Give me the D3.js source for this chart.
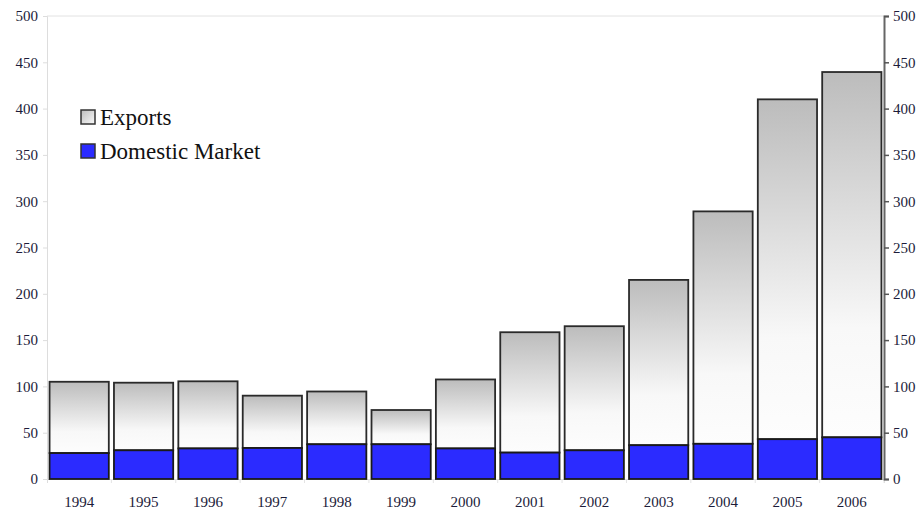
<!DOCTYPE html>
<html>
<head>
<meta charset="utf-8">
<script src="https://cdn.jsdelivr.net/npm/d3@7"></script>
<style>
  body { margin: 0; background: #fff; }
  text { font-family: "Liberation Serif", "Times New Roman", serif; }
</style>
</head>
<body>
<div class="chart"></div>
<script>
// Domestic market vs exports, 1994-2006
const years = ['1994', '1995', '1996', '1997', '1998', '1999', '2000',
               '2001', '2002', '2003', '2004', '2005', '2006'];
const domestic = [28, 31, 33, 33.5, 37.5, 37.5, 33, 28.5, 31, 36.5, 38, 43, 45];
const exports = [77, 73, 72.5, 56.5, 57, 37, 74.5, 130, 134, 178.5, 251, 367, 394.5];
const yTicks = [0, 50, 100, 150, 200, 250, 300, 350, 400, 450, 500];
const seriesNames = ['Exports', 'Domestic Market'];

const WIDTH = 921;
const HEIGHT = 512;
const MARGIN = { TOP: 16, BOTTOM: 33, LEFT: 47, RIGHT: 37 };
const FONT = '"Liberation Serif", "Times New Roman", serif';

const width = WIDTH - MARGIN.LEFT - MARGIN.RIGHT;
const height = HEIGHT - MARGIN.TOP - MARGIN.BOTTOM;

const svg = d3.select('.chart')
  .append('svg')
    .attr('width', WIDTH)
    .attr('height', HEIGHT);

const defs = svg.append('defs');
const grad = defs.append('linearGradient')
  .attr('id', 'exportGrad')
  .attr('x1', 0).attr('y1', 0).attr('x2', 0).attr('y2', 1);
grad.append('stop').attr('offset', '0%').attr('stop-color', '#bcbcbc');
grad.append('stop').attr('offset', '70%').attr('stop-color', '#f8f8f8');
grad.append('stop').attr('offset', '100%').attr('stop-color', '#fdfdfd');

const legGrad = defs.append('linearGradient')
  .attr('id', 'legendGrad')
  .attr('x1', 0).attr('y1', 0).attr('x2', 1).attr('y2', 1);
legGrad.append('stop').attr('offset', '0%').attr('stop-color', '#bdbdbd');
legGrad.append('stop').attr('offset', '100%').attr('stop-color', '#fafafa');

const g = svg.append('g')
  .attr('transform', `translate(${MARGIN.LEFT}, ${MARGIN.TOP})`);

const xscale = d3.scaleBand().domain(years).range([0, width]).paddingInner(0.08).paddingOuter(0.04);
const yscale = d3.scaleLinear().domain([0, 500]).range([height, 0]);

// top gridline
g.append('line')
  .attr('x1', 0).attr('x2', width)
  .attr('y1', yscale(500)).attr('y2', yscale(500))
  .attr('stroke', '#e2e2e2');

// left axis (light)
const leftAxis = g.append('g')
  .call(d3.axisLeft(yscale).tickValues(yTicks).tickSize(4).tickPadding(5));
leftAxis.select('.domain').attr('stroke', '#dddddd');
leftAxis.selectAll('.tick line').attr('stroke', '#dddddd');
leftAxis.selectAll('text')
  .style('font-family', FONT).style('font-size', '15px').attr('fill', '#1c1c3a');

// bottom axis (light)
const bottomAxis = g.append('g')
  .attr('transform', `translate(0, ${height})`)
  .call(d3.axisBottom(xscale).tickSize(4).tickPadding(13));
bottomAxis.select('.domain').attr('stroke', '#dddddd');
bottomAxis.selectAll('.tick line').attr('stroke', '#e4e4e4')
  .attr('transform', `translate(${xscale.step() / 2}, 0)`);
bottomAxis.selectAll('text')
  .style('font-family', FONT).style('font-size', '15px').attr('fill', '#1c1c3a');

// stacked bars
const rows = years.map((y, i) => ({ year: y, dom: domestic[i], exp: exports[i] }));

g.selectAll('.exp')
  .data(rows)
  .enter().append('rect')
    .attr('class', 'exp')
    .attr('x', d => xscale(d.year))
    .attr('y', d => yscale(d.dom + d.exp))
    .attr('width', xscale.bandwidth())
    .attr('height', d => yscale(d.dom) - yscale(d.dom + d.exp))
    .attr('fill', 'url(#exportGrad)')
    .attr('stroke', '#2a2a2a')
    .attr('stroke-width', 1.8);

g.selectAll('.dom')
  .data(rows)
  .enter().append('rect')
    .attr('class', 'dom')
    .attr('x', d => xscale(d.year))
    .attr('y', d => yscale(d.dom))
    .attr('width', xscale.bandwidth())
    .attr('height', d => yscale(0) - yscale(d.dom))
    .attr('fill', '#2b2bff')
    .attr('stroke', '#1a1a1a')
    .attr('stroke-width', 1.8);

// right axis (dark)
const rightAxis = g.append('g')
  .attr('transform', `translate(${width}, 0)`)
  .call(d3.axisRight(yscale).tickValues(yTicks).tickSize(5).tickPadding(4));
rightAxis.select('.domain').attr('stroke', '#666').attr('stroke-width', 2);
rightAxis.selectAll('.tick line').attr('stroke', '#555').attr('stroke-width', 1.5);
rightAxis.selectAll('text')
  .style('font-family', FONT).style('font-size', '15px').attr('fill', '#1c1c3a');

// legend
const legend = svg.selectAll('.legend')
  .data(seriesNames)
  .enter().append('g')
    .attr('class', 'legend')
    .attr('transform', (d, i) => `translate(81, ${110 + i * 34})`);

legend.append('rect')
  .attr('width', 14)
  .attr('height', 14)
  .attr('fill', (d, i) => i === 0 ? 'url(#legendGrad)' : '#2b2bff')
  .attr('stroke', '#333')
  .attr('stroke-width', 1.5);

legend.append('text')
  .attr('x', 19)
  .attr('y', 15)
  .style('font-family', FONT)
  .style('font-size', '23px')
  .attr('fill', '#111')
  .text(d => d);
</script>
</body>
</html>
